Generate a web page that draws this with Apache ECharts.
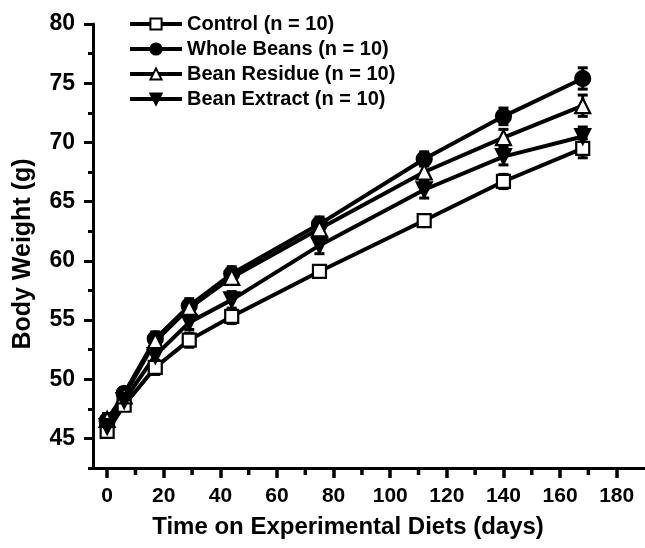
<!DOCTYPE html>
<html>
<head>
<meta charset="utf-8">
<script src="https://cdn.jsdelivr.net/npm/echarts@6/dist/echarts.min.js"></script>
<style>html,body{margin:0;padding:0;background:#fff}#c{width:645px;height:548px}</style>
</head>
<body>
<div id="c"></div>
<script>
var days = [0, 6, 17, 29, 44, 75, 112, 140, 168];
var control = [45.6, 47.8, 51.0, 53.3, 55.3, 59.1, 63.4, 66.7, 69.5];
var wholeBeans = [46.5, 48.8, 53.4, 56.2, 58.9, 63.1, 68.6, 72.2, 75.4];
var beanResidue = [46.6, 48.6, 53.2, 56.0, 58.6, 62.7, 67.5, 70.4, 73.1];
var beanExtract = [46.0, 48.2, 52.0, 54.8, 56.7, 61.3, 66.0, 68.8, 70.5];
var controlErr = [0.4, 0.4, 0.6, 0.6, 0.6, 0.5, 0.5, 0.6, 0.8];
var wholeBeansErr = [0.5, 0.5, 0.6, 0.6, 0.6, 0.6, 0.6, 0.7, 0.9];
var beanResidueErr = [0.5, 0.5, 0.6, 0.6, 0.6, 0.6, 0.6, 0.7, 0.9];
var beanExtractErr = [0.5, 0.5, 0.6, 0.6, 0.7, 0.7, 0.7, 0.7, 0.8];
var seriesNames = ['Control (n = 10)', 'Whole Beans (n = 10)', 'Bean Residue (n = 10)', 'Bean Extract (n = 10)'];
var xMajorTicks = [0, 20, 40, 60, 80, 100, 120, 140, 160, 180];
var xMinorTicks = [10, 30, 50, 70, 90, 110, 130, 150, 170];
var yMajorTicks = [45, 50, 55, 60, 65, 70, 75, 80];
var yMinorTicks = [42.5, 47.5, 52.5, 57.5, 62.5, 67.5, 72.5, 77.5];
var X_MIN = -5, X_MAX = 190, Y_MIN = 42.5, Y_MAX = 80;

var FONT = '"Liberation Sans", Arial, Helvetica, sans-serif';
var chart = echarts.init(document.getElementById('c'), null, {renderer: 'canvas'});

function pairs(vals) { return days.map(function (d, i) { return [d, vals[i]]; }); }
function errPairs(vals, errs) { return days.map(function (d, i) { return [d, vals[i] - errs[i], vals[i] + errs[i]]; }); }

function errSeries(vals, errs) {
  return {
    type: 'custom', z: 1, silent: true,
    data: errPairs(vals, errs),
    renderItem: function (params, api) {
      var lo = api.coord([api.value(0), api.value(1)]);
      var hi = api.coord([api.value(0), api.value(2)]);
      var w = 5;
      var st = {stroke: '#000', lineWidth: 3};
      return {type: 'group', children: [
        {type: 'line', shape: {x1: lo[0], y1: lo[1], x2: hi[0], y2: hi[1]}, style: st},
        {type: 'line', shape: {x1: lo[0] - w, y1: lo[1], x2: lo[0] + w, y2: lo[1]}, style: st},
        {type: 'line', shape: {x1: hi[0] - w, y1: hi[1], x2: hi[0] + w, y2: hi[1]}, style: st}
      ]};
    }
  };
}

// minor ticks on the x axis, positioned through the axis scale
var xMinorTickSeries = {
  type: 'custom', z: 5, silent: true, clip: false,
  data: xMinorTicks.map(function (v) { return [v, Y_MIN, Y_MIN]; }),
  renderItem: function (params, api) {
    var p = api.coord([api.value(0), api.value(1)]);
    return {type: 'group', children: [
      {type: 'line', shape: {x1: p[0], y1: p[1] + 1, x2: p[0], y2: p[1] + 7}, style: {stroke: '#000', lineWidth: 3.5}}
    ]};
  }
};

function lineSeries(name, vals, symbol, fill, size, rotate) {
  return {
    name: name, type: 'line', z: 3,
    data: pairs(vals),
    symbol: symbol, symbolSize: size, symbolRotate: rotate || 0,
    showAllSymbol: true,
    lineStyle: {color: '#000', width: 4},
    itemStyle: {color: fill, borderColor: '#000', borderWidth: 2.2},
    emphasis: {disabled: true},
    animation: false
  };
}

var gridBox = {left: 93, right: 0, top: 24, bottom: 80, containLabel: false, outerBoundsMode: 'none'};

var option = {
  animation: false,
  backgroundColor: '#fff',
  grid: [Object.assign({}, gridBox), Object.assign({}, gridBox)],
  legend: {
    orient: 'vertical', left: 123, top: 9,
    itemWidth: 52, itemHeight: 14, itemGap: 5,
    lineStyle: {width: 4, color: '#000'},
    textStyle: {fontFamily: FONT, fontWeight: 'bold', fontSize: 20, lineHeight: 20, color: '#000'},
    data: seriesNames
  },
  xAxis: [{
    type: 'value', min: X_MIN, max: X_MAX, gridIndex: 0,
    axisLine: {show: true, onZero: false, lineStyle: {color: '#000', width: 3}},
    splitLine: {show: false},
    axisTick: {show: true, inside: false, length: 10, lineStyle: {color: '#000', width: 3.5}, customValues: xMajorTicks},
    axisLabel: {show: true, margin: 18, customValues: xMajorTicks, fontFamily: FONT, fontWeight: 'bold', fontSize: 21, color: '#000'},
    name: 'Time on Experimental Diets (days)', nameLocation: 'middle', nameGap: 47,
    nameTextStyle: {fontFamily: FONT, fontWeight: 'bold', fontSize: 24, color: '#000', padding: [0, 42, 0, 0]}
  }, {
    type: 'value', min: X_MIN, max: X_MAX, gridIndex: 1, show: false
  }],
  yAxis: [{
    type: 'value', min: Y_MIN, max: Y_MAX, gridIndex: 0,
    axisLine: {show: true, onZero: false, lineStyle: {color: '#000', width: 3}},
    splitLine: {show: false},
    axisTick: {show: true, inside: false, length: 9, lineStyle: {color: '#000', width: 3}, customValues: yMajorTicks},
    axisLabel: {show: true, margin: 18, customValues: yMajorTicks, fontFamily: FONT, fontWeight: 'bold', fontSize: 23, color: '#000'},
    name: 'Body Weight (g)', nameLocation: 'middle', nameGap: 57, nameRotate: 90,
    nameTextStyle: {fontFamily: FONT, fontWeight: 'bold', fontSize: 25, color: '#000', padding: [0, 16, 0, 0]}
  }, {
    type: 'value', min: Y_MIN, max: Y_MAX, gridIndex: 1, position: 'left',
    axisLine: {show: false, onZero: false}, splitLine: {show: false},
    axisTick: {show: true, inside: false, length: 5, lineStyle: {color: '#000', width: 3}, customValues: yMinorTicks},
    axisLabel: {show: false}
  }],
  series: [
    errSeries(control, controlErr),
    errSeries(wholeBeans, wholeBeansErr),
    errSeries(beanResidue, beanResidueErr),
    errSeries(beanExtract, beanExtractErr),
    lineSeries(seriesNames[0], control, 'rect', '#fff', 13),
    lineSeries(seriesNames[1], wholeBeans, 'circle', '#000', 15),
    lineSeries(seriesNames[2], beanResidue, 'triangle', '#fff', 15),
    lineSeries(seriesNames[3], beanExtract, 'triangle', '#000', 15, 180),
    xMinorTickSeries
  ]
};
chart.setOption(option);
</script>
</body>
</html>
